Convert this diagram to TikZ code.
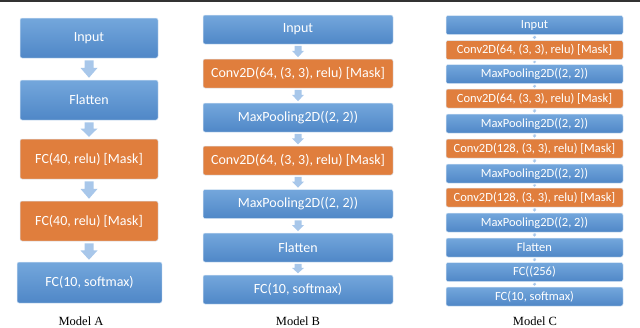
\documentclass[tikz,border=0pt]{standalone}
\usepackage{fontspec}
\setmainfont{Liberation Serif}
\newfontfamily\boxfont{Carlito}
\usetikzlibrary{calc}
\definecolor{bluetop}{HTML}{74A7DC}
\definecolor{bluebot}{HTML}{4F87C7}
\definecolor{orangemain}{HTML}{E07E3D}
\definecolor{arrowc}{HTML}{A8C7EA}
\definecolor{topline}{HTML}{333333}
\tikzset{
  layer/.style={rounded corners=2pt, draw=white!75!bluetop, line width=0.5pt,
    text=white, font=\boxfont, inner sep=0pt, anchor=center},
  bluebox/.style={layer, top color=bluetop, bottom color=bluebot},
  orangebox/.style={layer, fill=orangemain},
  boxA/.style={minimum width=138pt, minimum height=40pt, font=\boxfont\fontsize{14}{16}\selectfont},
  boxB/.style={minimum width=190pt, minimum height=29pt, font=\boxfont\fontsize{14}{16}\selectfont},
  boxC/.style={minimum width=177pt, minimum height=19pt, font=\boxfont\fontsize{12.5}{14}\selectfont},
  caption/.style={font=\fontsize{12.5}{14}\selectfont, text=black},
  arrowfill/.style={fill=arrowc}
}
\newcommand\blkarrow[5]{%
  \fill[arrowfill] let \p1=(#1.south), \p2=(#2.north),
    \n1={\y1-#5}, \n2={\y2+#5}, \n3={0.55*\y1+0.45*\y2} in
    (\x1-#3,\n1) -- (\x1+#3,\n1) -- (\x1+#3,\n3) -- (\x1+#4,\n3) -- (\x1,\n2)
    -- (\x1-#4,\n3) -- (\x1-#3,\n3) -- cycle;}
\begin{document}
\begin{tikzpicture}[x=1pt,y=-1pt]
\useasboundingbox (0,0) rectangle (640,327);
\fill[topline] (0,0) rectangle (640,1.6);
% Model A
\node[bluebox,boxA] (a1) at (89,38) {Input};
\node[bluebox,boxA] (a2) at (89,100) {Flatten};
\node[orangebox,boxA] (a3) at (89,159) {FC(40, relu) [Mask]};
\node[orangebox,boxA] (a4) at (89,221) {FC(40, relu) [Mask]};
\node[bluebox,boxA,minimum width=145pt,minimum height=41pt] (a5) at (89.5,282.5) {FC(10, softmax)};
\blkarrow{a1}{a2}{4.5pt}{8.5pt}{2pt}
\blkarrow{a2}{a3}{4.5pt}{8.5pt}{2pt}
\blkarrow{a3}{a4}{4.5pt}{8.5pt}{2pt}
\blkarrow{a4}{a5}{4.5pt}{8.5pt}{2pt}
\node[caption] (ca) at (81,321) {Model A};
% Model B
\node[bluebox,boxB] (b1) at (298,29.5) {Input};
\node[orangebox,boxB] (b2) at (298,73.5) {Conv2D(64, (3, 3), relu) [Mask]};
\node[bluebox,boxB] (b3) at (298,117.5) {MaxPooling2D((2, 2))};
\node[orangebox,boxB] (b4) at (298,160.5) {Conv2D(64, (3, 3), relu) [Mask]};
\node[bluebox,boxB] (b5) at (298,204) {MaxPooling2D((2, 2))};
\node[bluebox,boxB] (b6) at (298,247.5) {Flatten};
\node[bluebox,boxB] (b7) at (298,289.5) {FC(10, softmax)};
\foreach \u/\v in {b1/b2,b2/b3,b3/b4,b4/b5,b5/b6,b6/b7}{\blkarrow{\u}{\v}{3.5pt}{6pt}{1.5pt}}
\node[caption] (cb) at (298,321) {Model B};
% Model C
\node[bluebox,boxC] (c1) at (534.5,25) {Input};
\node[orangebox,boxC] (c2) at (534.5,50) {Conv2D(64, (3, 3), relu) [Mask]};
\node[bluebox,boxC] (c3) at (534.5,74) {MaxPooling2D((2, 2))};
\node[orangebox,boxC] (c4) at (534.5,98.5) {Conv2D(64, (3, 3), relu) [Mask]};
\node[bluebox,boxC] (c5) at (534.5,123.5) {MaxPooling2D((2, 2))};
\node[orangebox,boxC] (c6) at (534.5,148.5) {Conv2D(128, (3, 3), relu) [Mask]};
\node[bluebox,boxC] (c7) at (534.5,173.5) {MaxPooling2D((2, 2))};
\node[orangebox,boxC] (c8) at (534.5,197.5) {Conv2D(128, (3, 3), relu) [Mask]};
\node[bluebox,boxC] (c9) at (534.5,222.5) {MaxPooling2D((2, 2))};
\node[bluebox,boxC] (c10) at (534.5,247.5) {Flatten};
\node[bluebox,boxC] (c11) at (534.5,272) {FC((256)};
\node[bluebox,boxC] (c12) at (534.5,296.5) {FC(10, softmax)};
\foreach \u/\v in {c1/c2,c2/c3,c3/c4,c4/c5,c5/c6,c6/c7,c7/c8,c8/c9,c9/c10,c10/c11,c11/c12}{\blkarrow{\u}{\v}{1pt}{1.8pt}{1pt}}
\node[caption] (cc) at (535,321) {Model C};
\end{tikzpicture}
\end{document}
